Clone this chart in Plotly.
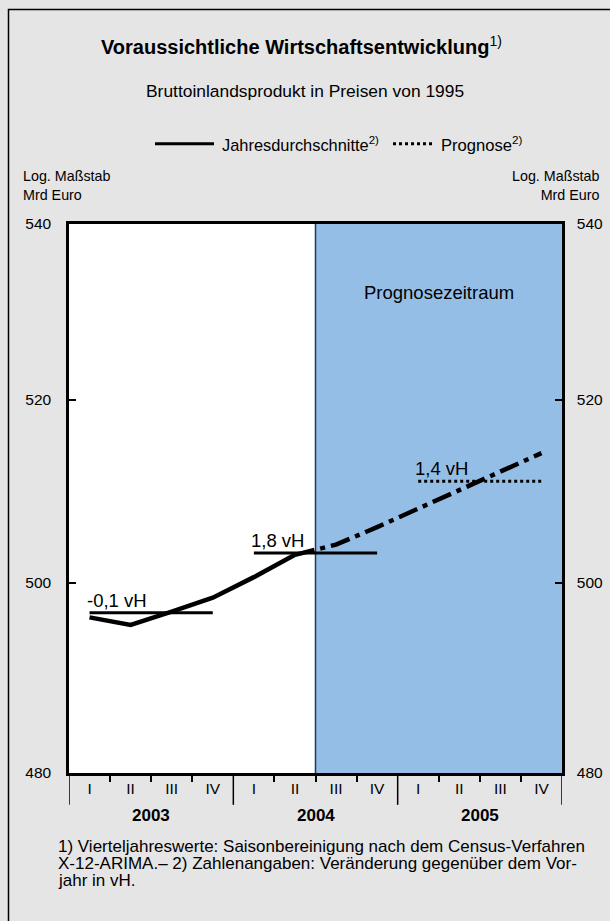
import math
import plotly.graph_objects as go

# Daten
quartale = ["I", "II", "III", "IV"] * 3
jahre = ["2003", "2004", "2005"]
bip_quartal = [496.3, 495.5, 496.9, 498.4, 500.6, 503.0, 504.1, 506.0, 508.0, 510.0, 512.0, 514.1]
n_ist = 6  # Quartale mit Istwerten (bis 2004 II)
bip_jahr = [496.8, 503.2, 511.0]
veraenderung = ["-0,1 vH", "1,8 vH", "1,4 vH"]
y_ticks = [480, 500, 520, 540]
fussnote = [
    "1) Vierteljahreswerte: Saisonbereinigung nach dem Census-Verfahren",
    "X-12-ARIMA.– 2) Zahlenangaben: Veränderung gegenüber dem Vor-",
    "jahr in vH.",
]

FONT = "Liberation Sans, Arial, sans-serif"
BG = "#E5E5E5"
BLUE = "#95BEE6"

x_q = [i + 0.5 for i in range(len(quartale))]

fig = go.Figure()

# Istwerte (Quartale)
fig.add_trace(go.Scatter(
    x=x_q[:n_ist], y=bip_quartal[:n_ist], mode="lines",
    line=dict(color="black", width=4.5), showlegend=False,
))
# Prognose (Quartale)
fig.add_trace(go.Scatter(
    x=x_q[n_ist - 1:], y=bip_quartal[n_ist - 1:], mode="lines",
    line=dict(color="black", width=4.5, dash="20px,6px,5px,6px"), showlegend=False,
))

# Jahresdurchschnitte
for j, wert in enumerate(bip_jahr):
    x0, x1 = x_q[4 * j], x_q[4 * j + 3]
    prognose = j == len(bip_jahr) - 1
    fig.add_trace(go.Scatter(
        x=[x0, x1], y=[wert, wert], mode="lines",
        line=dict(color="black", width=3, dash="3px,3px" if prognose else "solid"),
        showlegend=False,
    ))
    # log-Achse: Annotationen in log10-Einheiten
    fig.add_annotation(
        x=x0, y=math.log10(wert), xref="x", yref="y", text=veraenderung[j], showarrow=False,
        xanchor="left", yanchor="bottom", xshift=-5, yshift=0,
        font=dict(family=FONT, size=18.5, color="black"),
    )

# Prognosezeitraum
fig.add_shape(type="rect", xref="x", yref="paper", x0=6, x1=12, y0=0, y1=1,
              fillcolor=BLUE, line_width=0, layer="below")
fig.add_shape(type="line", xref="x", yref="paper", x0=6, x1=6, y0=0, y1=1,
              line=dict(color="#1E3A5C", width=1.5), layer="below")
fig.add_annotation(x=9, y=0.876, xref="x", yref="paper", text="Prognosezeitraum", showarrow=False,
                   yanchor="middle", font=dict(family=FONT, size=18.5, color="black"))

# lange Striche an den Jahresgrenzen + Jahreszahlen
for j in range(len(jahre) + 1):
    fig.add_shape(type="line", xref="x", yref="paper", x0=4 * j, x1=4 * j, y0=0, y1=-0.058,
                  line=dict(color="black", width=1.5))
for j, jahr in enumerate(jahre):
    fig.add_annotation(x=4 * j + 2, y=-0.077, xref="x", yref="paper", text="<b>%s</b>" % jahr,
                       showarrow=False, yanchor="middle",
                       font=dict(family=FONT, size=17, color="black"))

# Titel und Texte
def text(x, y, t, size, xanchor="center", align="center"):
    fig.add_annotation(x=x, y=y, xref="paper", yref="paper", text=t, showarrow=False,
                       xanchor=xanchor, yanchor="middle", align=align, borderpad=0,
                       font=dict(family=FONT, size=size, color="black"))

text(0.472, 1.326, "<b>Voraussichtliche Wirtschaftsentwicklung</b><sup>1)</sup>", 20)
text(0.479, 1.242, "Bruttoinlandsprodukt in Preisen von 1995", 17.4)
text(-0.095, 1.07, "Log. Maßstab<br>Mrd Euro", 14.3, xanchor="left", align="left")
text(1.078, 1.07, "Log. Maßstab<br>Mrd Euro", 14.3, xanchor="right", align="right")
for k, zeile in enumerate(fussnote):
    text((57 - 69) / 493, (773 - (846 + 17 * k)) / 549, zeile, 17, xanchor="left", align="left")

# Legende
fig.add_shape(type="line", xref="paper", yref="paper", x0=(155 - 69) / 493, x1=(214 - 69) / 493,
              y0=1.146, y1=1.146, line=dict(color="black", width=3))
text((221 - 69) / 493, 1.146, "Jahresdurchschnitte<sup>2)</sup>", 16.4, xanchor="left")
fig.add_shape(type="line", xref="paper", yref="paper", x0=(393 - 69) / 493, x1=(435 - 69) / 493,
              y0=1.146, y1=1.146, line=dict(color="black", width=3, dash="3px,3px"))
text((440 - 69) / 493, 1.146, "Prognose<sup>2)</sup>", 16.6, xanchor="left")

# Rahmen
fig.add_shape(type="rect", xref="paper", yref="paper",
              x0=(8.5 - 69) / 493, x1=1.2, y0=(773 - 9.5) / 549, y1=-0.4,
              line=dict(color="black", width=1.5), fillcolor="rgba(0,0,0,0)")

yaxis_common = dict(
    type="log", range=[math.log10(480), math.log10(540)], tickvals=y_ticks,
    ticktext=[str(v) for v in y_ticks], automargin=False,
    ticks="inside", ticklen=7, tickwidth=1.5, tickcolor="black",
    showline=True, linecolor="black", linewidth=2.5, showgrid=False, zeroline=False,
    tickfont=dict(family=FONT, size=15.5, color="black"),
)

fig.update_layout(
    width=610, height=921,
    margin=dict(l=69, r=48, t=224, b=148, autoexpand=False),
    paper_bgcolor=BG, plot_bgcolor="white",
    showlegend=False,
    xaxis=dict(
        range=[0, 12], tickvals=x_q, ticktext=quartale, ticks="", showgrid=False, zeroline=False,
        showline=True, linecolor="black", linewidth=2.5, mirror=True, automargin=False,
        tickfont=dict(family=FONT, size=15.5, color="black"), ticklabelstandoff=0,
        minor=dict(tickvals=[1, 2, 3, 5, 6, 7, 9, 10, 11], ticks="outside", ticklen=6,
                   tickwidth=1.5, tickcolor="black"),
    ),
    yaxis=dict(**yaxis_common, side="left", mirror=False, ticklabelstandoff=12),
    yaxis2=dict(**yaxis_common, side="right", overlaying="y", anchor="x", ticklabelstandoff=9),
)
# leere Spur für die rechte Achse
fig.add_trace(go.Scatter(x=[None], y=[None], yaxis="y2", showlegend=False))

fig.write_html(
    "out.html",
    config={"displayModeBar": False},
    post_script="document.body.style.margin='0';document.body.style.background='%s';" % BG,
)
